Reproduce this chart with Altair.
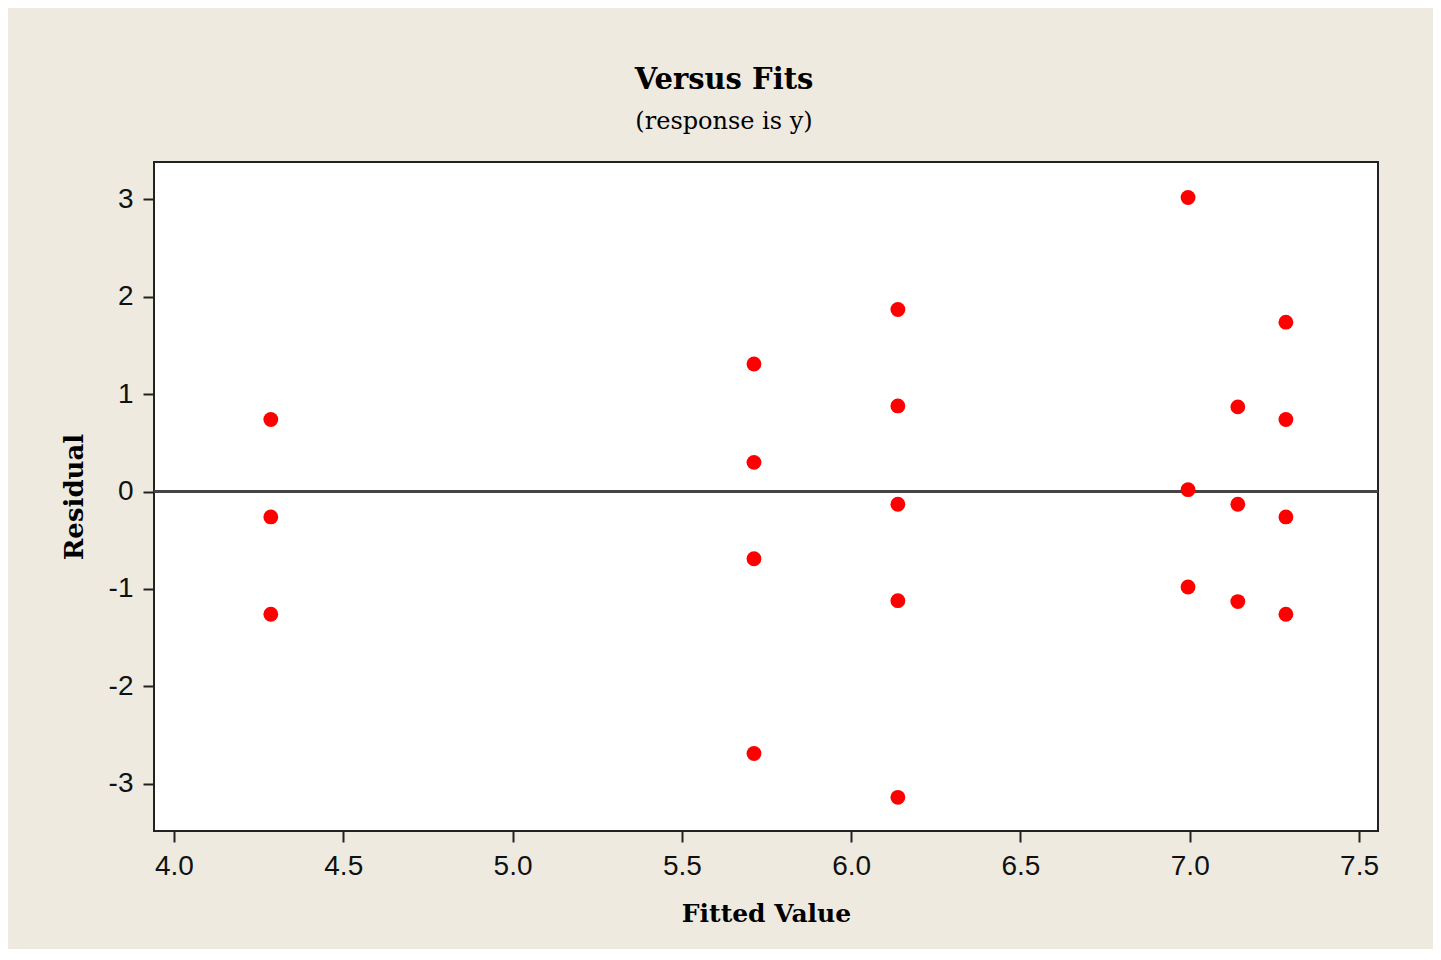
import altair as alt
import pandas as pd

# Fitted values and residuals
fitted = [4.286, 4.286, 4.286,
          5.713, 5.713, 5.713, 5.713,
          6.138, 6.138, 6.138, 6.138, 6.138,
          6.995, 6.995, 6.995,
          7.142, 7.142, 7.142,
          7.284, 7.284, 7.284, 7.284]
residual = [0.74, -0.26, -1.26,
            1.31, 0.30, -0.69, -2.69,
            1.87, 0.88, -0.13, -1.12, -3.14,
            3.02, 0.02, -0.98,
            0.87, -0.13, -1.13,
            1.74, 0.74, -0.26, -1.26]
x_ticks = [4.0, 4.5, 5.0, 5.5, 6.0, 6.5, 7.0, 7.5]
y_ticks = [-3, -2, -1, 0, 1, 2, 3]

df = pd.DataFrame({"fit": fitted, "res": residual})

BG = "#EEEAE0"
LABEL_FONT = "Liberation Sans"
TITLE_FONT = "DejaVu Serif"

xscale = alt.Scale(domain=[3.941, 7.556], nice=False, zero=False)
yscale = alt.Scale(domain=[-3.486, 3.385], nice=False, zero=False)

xaxis = alt.Axis(values=x_ticks, format=".1f", title="Fitted Value",
                 titleFont=TITLE_FONT, titleFontSize=25, titleFontWeight="bold",
                 titleColor="black", titleBaseline="alphabetic", titleY=90,
                 labelFont=LABEL_FONT, labelFontSize=28, labelColor="#111",
                 labelPadding=10, tickSize=11, tickWidth=2, tickColor="#222",
                 grid=False, domain=False)
yaxis = alt.Axis(values=y_ticks, labelExpr="toString(datum.value)", title="Residual",
                 titleFont=TITLE_FONT, titleFontSize=26, titleFontWeight="bold",
                 titleColor="black", titleBaseline="alphabetic", titleX=-72,
                 labelFont=LABEL_FONT, labelFontSize=28, labelColor="#111",
                 labelPadding=10, tickSize=11, tickWidth=2, tickColor="#222",
                 grid=False, domain=False)

zero_line = alt.Chart(df).mark_rule(color="#444", strokeWidth=2).encode(
    y=alt.datum(0, scale=yscale)
)

points = alt.Chart(df).mark_circle(color="#FF0000", size=220, opacity=1).encode(
    x=alt.X("fit:Q", scale=xscale, axis=xaxis),
    y=alt.Y("res:Q", scale=yscale, axis=yaxis),
)

chart = alt.layer(zero_line, points).properties(
    width=1224,
    height=669,
    background=BG,
    padding={"left": 146, "top": 154, "right": 55, "bottom": 118},
    autosize=alt.AutoSizeParams(type="none"),
    title=alt.TitleParams(
        text="Versus Fits",
        subtitle="(response is y)",
        font=TITLE_FONT, fontSize=29, fontWeight="bold", color="black",
        subtitleFont=TITLE_FONT, subtitleFontSize=24, subtitleColor="black",
        anchor="middle", dx=-42, offset=28, subtitlePadding=15,
    ),
).configure_view(
    fill="white", stroke="#222", strokeWidth=2
)

chart.save("out.html", embed_options={"renderer": "svg", "actions": False})
